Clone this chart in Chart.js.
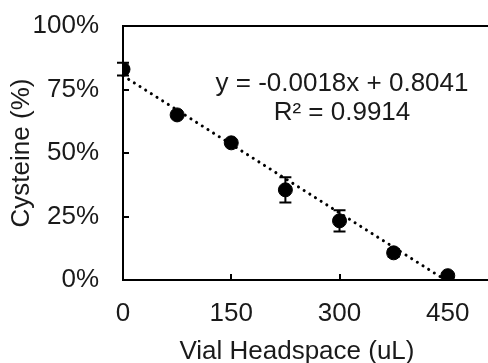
<!DOCTYPE html>
<html>
<head>
<meta charset="utf-8">
<script src="https://cdn.jsdelivr.net/npm/chart.js@4"></script>
<style>
  html, body { margin: 0; padding: 0; background: #fff; }
  #wrap { width: 488px; height: 363px; }
</style>
</head>
<body>
<div id="wrap"><canvas id="chart"></canvas></div>
<script>
// data
const headspace = [0, 75, 150, 225, 300, 375, 450];          // uL
const cysteine = [0.83, 0.65, 0.54, 0.355, 0.233, 0.107, 0.017]; // fraction
const errors = [0.025, 0.008, 0.008, 0.05, 0.042, 0.015, 0.008];
const xTicks = [0, 150, 300, 450];
const yTicks = [0, 0.25, 0.5, 0.75, 1];
// Excel trendline: y = -0.0018x + 0.8041
const trendX = [0, 446.7];
const trendY = [0.8041, 0];
const eqLines = ["y = -0.0018x + 0.8041", "R² = 0.9914"];

const ink = "#1a1a1a";
const font = { family: "'Liberation Sans', Arial, sans-serif", size: 26 };

// error bars, inner ticks, frame lines to the edge, equation text
const extras = {
  id: "extras",
  afterDatasetsDraw(chart) {
    const { ctx, chartArea, scales: { x, y } } = chart;
    ctx.save();
    ctx.strokeStyle = "#000";
    ctx.lineWidth = 2;
    // top border, and the x axis carried on to the right edge
    ctx.beginPath();
    ctx.moveTo(chartArea.left, chartArea.top);
    ctx.lineTo(chart.width, chartArea.top);
    ctx.moveTo(chartArea.right - 1, chartArea.bottom);
    ctx.lineTo(chart.width, chartArea.bottom);
    ctx.stroke();
    // inner ticks
    ctx.beginPath();
    yTicks.forEach(v => {
      const py = Math.round(y.getPixelForValue(v));
      ctx.moveTo(chartArea.left, py);
      ctx.lineTo(chartArea.left + 6, py);
    });
    xTicks.forEach(v => {
      const px = Math.round(x.getPixelForValue(v));
      ctx.moveTo(px, chartArea.bottom);
      ctx.lineTo(px, chartArea.bottom - 6);
    });
    ctx.stroke();
    // error bars
    ctx.beginPath();
    headspace.forEach((h, i) => {
      const px = x.getPixelForValue(h);
      const top = y.getPixelForValue(cysteine[i] + errors[i]);
      const bot = y.getPixelForValue(cysteine[i] - errors[i]);
      ctx.moveTo(px, top); ctx.lineTo(px, bot);
      ctx.moveTo(px - 6, top); ctx.lineTo(px + 6, top);
      ctx.moveTo(px - 6, bot); ctx.lineTo(px + 6, bot);
    });
    ctx.stroke();
    // equation
    ctx.fillStyle = ink;
    ctx.font = "26px 'Liberation Sans', Arial, sans-serif";
    ctx.textAlign = "center";
    ctx.textBaseline = "middle";
    ctx.fillText(eqLines[0], 342, 84);
    ctx.fillText(eqLines[1], 342, 113);
    ctx.restore();
  }
};

new Chart(document.getElementById("chart"), {
  type: "scatter",
  data: {
    datasets: [
      {
        label: "Cysteine",
        data: headspace.map((h, i) => ({ x: h, y: cysteine[i] })),
        backgroundColor: "#000",
        borderColor: "#000",
        pointRadius: 7,
        pointHoverRadius: 7,
        order: 1
      },
      {
        label: "Trend",
        type: "line",
        data: trendX.map((t, i) => ({ x: t, y: trendY[i] })),
        borderColor: "#000",
        borderWidth: 3,
        borderDash: [0.1, 6.6],
        borderCapStyle: "round",
        pointRadius: 0,
        fill: false,
        clip: false,
        order: 2
      }
    ]
  },
  options: {
    responsive: true,
    maintainAspectRatio: false,
    animation: false,
    events: [],
    layout: { padding: { top: 26, left: 0, right: 0, bottom: 0 } },
    plugins: { legend: { display: false }, tooltip: { enabled: false } },
    scales: {
      x: {
        type: "linear",
        min: 0,
        max: 482,
        afterBuildTicks: s => { s.ticks = xTicks.map(v => ({ value: v })); },
        afterFit: s => { s.height = 83; },
        grid: { display: true, drawOnChartArea: false, drawTicks: false },
        border: { display: true, color: "#000", width: 2 },
        ticks: { color: ink, font, padding: 18, maxRotation: 0 },
        title: { display: true, text: "Vial Headspace (uL)", color: ink, font, padding: { top: 0, bottom: -4 } }
      },
      y: {
        min: 0,
        max: 1,
        afterBuildTicks: s => { s.ticks = yTicks.map(v => ({ value: v })); },
        afterFit: s => { s.width = 123; s.paddingTop = 0; s.paddingBottom = 0; },
        grid: { display: true, drawOnChartArea: false, drawTicks: false },
        border: { display: true, color: "#000", width: 2 },
        ticks: {
          color: ink, font, padding: 24,
          callback: v => Math.round(v * 100) + "%"
        },
        title: { display: true, text: "Cysteine (%)", color: ink, font, padding: { top: 6, bottom: 0 } }
      }
    }
  },
  plugins: [extras]
});
</script>
</body>
</html>
